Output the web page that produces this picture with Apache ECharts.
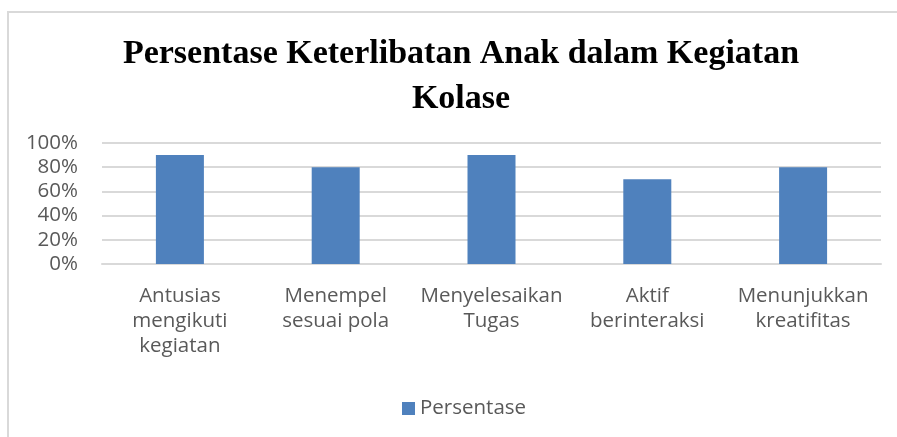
<!DOCTYPE html>
<html>
<head>
<meta charset="utf-8">
<script src="https://cdn.jsdelivr.net/npm/echarts@6/dist/echarts.min.js"></script>
<style>
  html, body { margin: 0; padding: 0; background: #fff; }
  #frame {
    position: absolute; left: 7px; top: 11px;
    width: 1000px; height: 500px;
    border: 2px solid #d9d9d9;
  }
  #chart { position: absolute; left: 0; top: 0; width: 897px; height: 437px; }
</style>
</head>
<body>
<div id="frame"></div>
<div id="chart"></div>
<script>
// data
const categories = [
  "Antusias\nmengikuti\nkegiatan",
  "Menempel\nsesuai pola",
  "Menyelesaikan\nTugas",
  "Aktif\nberinteraksi",
  "Menunjukkan\nkreatifitas"
];
const persentase = [90, 80, 90, 70, 80];
const seriesName = "Persentase";
const titleText = "Persentase Keterlibatan Anak dalam Kegiatan\nKolase";

const chart = echarts.init(document.getElementById("chart"));

const option = {
  animation: false,
  title: {
    text: titleText,
    left: 456,
    top: 27,
    textAlign: "center",
    textStyle: {
      fontFamily: "Liberation Serif",
      fontWeight: "bold",
      fontSize: 34,
      lineHeight: 45,
      color: "#000"
    }
  },
  grid: {
    left: 102,
    right: 16,
    top: 143,
    bottom: 173
  },
  xAxis: {
    type: "category",
    data: categories,
    axisLine: { lineStyle: { color: "#d9d9d9", width: 2 } },
    axisTick: { show: false },
    axisLabel: {
      interval: 0,
      margin: 20,
      fontFamily: "Open Sans",
      fontSize: 20.5,
      lineHeight: 25,
      color: "#595959"
    }
  },
  yAxis: {
    type: "value",
    min: 0,
    max: 100,
    interval: 20,
    axisLine: { show: false },
    axisTick: { show: false },
    splitLine: { lineStyle: { color: "#d9d9d9", width: 2 } },
    axisLabel: {
      margin: 24,
      fontFamily: "Open Sans",
      fontSize: 20.5,
      color: "#595959",
      formatter: "{value}%"
    }
  },
  legend: {
    bottom: 13,
    left: 397,
    itemWidth: 13,
    itemHeight: 13,
    itemGap: 8,
    icon: "rect",
    textStyle: {
      fontFamily: "Open Sans",
      fontSize: 20.5,
      color: "#595959"
    }
  },
  series: [
    {
      name: seriesName,
      type: "bar",
      data: persentase,
      barWidth: 48,
      itemStyle: { color: "#4f81bd" }
    }
  ]
};

chart.setOption(option);
</script>
</body>
</html>
